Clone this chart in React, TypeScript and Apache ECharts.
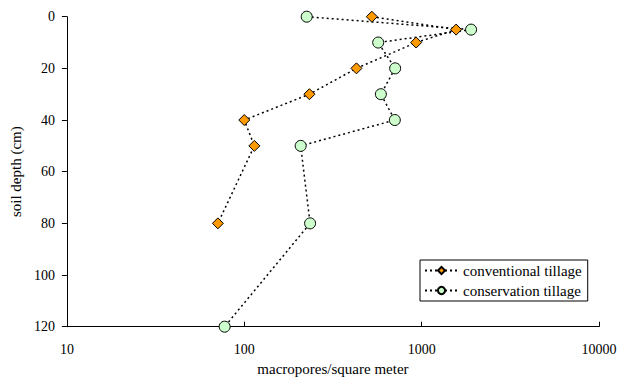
import React, { useEffect, useRef } from "react";
import * as echarts from "echarts";

const depths = [0, 5, 10, 20, 30, 40, 50, 80];
const conventional = [524, 1564, 931, 429, 233, 100, 114, 71];
const conservationDepths = [0, 5, 10, 20, 30, 40, 50, 80, 120];
const conservation = [225, 1900, 569, 709, 589, 706, 208, 235, 77.5];
const yTicks = [0, 20, 40, 60, 80, 100, 120];

const FONT = "Liberation Serif";

export default function App() {
  const ref = useRef<HTMLDivElement>(null);
  useEffect(() => {
    if (!ref.current) return;
    const chart = echarts.init(ref.current, undefined, { renderer: "svg" });
    const lineStyle = { color: "#000", width: 1.5, type: [2, 3] as any };
    chart.setOption({
      animation: false,
      textStyle: { fontFamily: FONT },
      grid: { left: 66.5, right: 34, top: 16.7, bottom: 58.3 },
      legend: {
        orient: "vertical",
        left: 420,
        top: 260,
        width: 166,
        padding: [3, 6, 3, 4],
        borderColor: "#000",
        borderWidth: 1,
        itemGap: 5,
        itemWidth: 33,
        itemHeight: 9,
        textStyle: { fontFamily: FONT, fontSize: 15, color: "#000", padding: [0, 0, 0, 0] },
        data: ["conventional tillage", "conservation tillage"],
      },
      xAxis: {
        type: "log",
        logBase: 10,
        min: 10,
        max: 10000,
        name: "macropores/square meter",
        nameLocation: "middle",
        nameGap: 32,
        nameTextStyle: { fontFamily: FONT, fontSize: 15, color: "#000" },
        position: "bottom",
        axisLine: { show: true, onZero: false, lineStyle: { color: "#000", width: 1 } },
        axisTick: { show: true, inside: true, length: 5, lineStyle: { color: "#000" } },
        minorTick: { show: false },
        splitLine: { show: false },
        axisLabel: {
          fontFamily: FONT,
          fontSize: 14,
          color: "#000",
          margin: 16,
          formatter: (v: number) => String(Math.round(v)),
        },
      },
      yAxis: {
        type: "value",
        inverse: true,
        min: yTicks[0],
        max: yTicks[yTicks.length - 1],
        interval: 20,
        name: "soil depth (cm)",
        nameLocation: "middle",
        nameGap: 36,
        nameTextStyle: { fontFamily: FONT, fontSize: 15, color: "#000" },
        axisLine: { show: true, onZero: false, lineStyle: { color: "#000", width: 1 } },
        axisTick: { show: true, inside: false, length: 5, lineStyle: { color: "#000" } },
        splitLine: { show: false },
        axisLabel: { fontFamily: FONT, fontSize: 14, color: "#000", margin: 12 },
      },
      series: [
        {
          name: "conventional tillage",
          type: "line",
          data: depths.map((d, i) => [conventional[i], d]),
          symbol: "diamond",
          symbolSize: 11,
          lineStyle,
          itemStyle: { color: "#FF9900", borderColor: "#000", borderWidth: 1 },
          z: 3,
        },
        {
          name: "conservation tillage",
          type: "line",
          data: conservationDepths.map((d, i) => [conservation[i], d]),
          symbol: "circle",
          symbolSize: 11,
          lineStyle,
          itemStyle: { color: "#CCFFCC", borderColor: "#000", borderWidth: 1 },
          z: 2,
        },
      ],
    });
    return () => chart.dispose();
  }, []);
  return <div ref={ref} style={{ width: 633, height: 385, position: "absolute", left: 0, top: 0 }} />;
}
